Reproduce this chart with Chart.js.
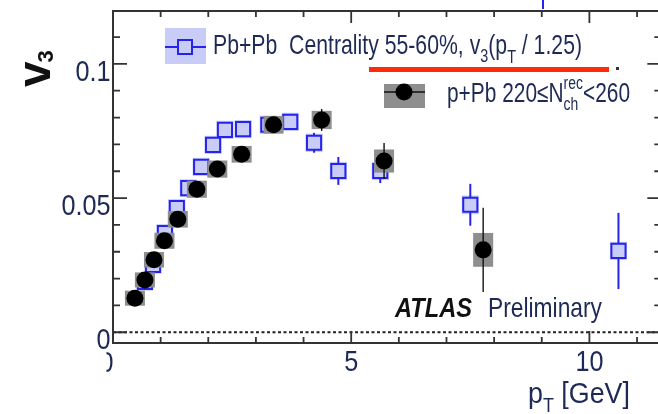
<!DOCTYPE html>
<html>
<head>
<meta charset="utf-8">
<script src="https://cdn.jsdelivr.net/npm/chart.js@4.4.1/dist/chart.umd.min.js"></script>
<style>
  html, body { margin: 0; padding: 0; background: #fff; overflow: hidden; }
  canvas { display: block; }
</style>
</head>
<body>
<canvas id="myChart" width="658" height="414"></canvas>
<script>
// p+Pb 220 <= N_ch^rec < 260 (black circles)
const pPbX    = [0.46, 0.67, 0.86, 1.08, 1.36, 1.76, 2.19, 2.70, 3.37, 4.38, 5.69, 7.77];
const pPbY    = [0.0127, 0.0195, 0.0270, 0.0341, 0.0421, 0.0533, 0.0608, 0.0663, 0.0773, 0.0791, 0.0638, 0.0307];
const pPbStat = [0.0006, 0.0007, 0.0008, 0.0009, 0.0010, 0.0012, 0.0015, 0.0018, 0.0024, 0.0041, 0.0067, 0.0157];
const pPbSys  = [0.0028, 0.0028, 0.0029, 0.0030, 0.0031, 0.0032, 0.0032, 0.0031, 0.0033, 0.0034, 0.0043, 0.0063];

// Pb+Pb centrality 55-60%, v3(pT/1.25) (blue open squares)
const pbpbX    = [0.67, 0.84, 1.09, 1.34, 1.58, 1.85, 2.10, 2.35, 2.73, 3.26, 3.72, 4.22, 4.73, 5.61, 7.50, 10.61];
const pbpbY    = [0.0188, 0.0251, 0.0370, 0.0463, 0.0537, 0.0616, 0.0698, 0.0754, 0.0757, 0.0773, 0.0784, 0.0706, 0.0601, 0.0601, 0.0475, 0.0303];
const pbpbStat = [0.0005, 0.0005, 0.0006, 0.0007, 0.0008, 0.0009, 0.0010, 0.0011, 0.0012, 0.0014, 0.0018, 0.0037, 0.0052, 0.0045, 0.0078, 0.0142];
const pbpbSys  = [0.0033, 0.0033, 0.0033, 0.0033, 0.0033, 0.0034, 0.0034, 0.0034, 0.0034, 0.0034, 0.0034, 0.0034, 0.0034, 0.0034, 0.0035, 0.0034];

const xTicks = [0, 5, 10];
const xTickLabels = ['', '5', '10'];
const yTicks = [0, 0.05, 0.1];
const yTickLabels = ['0', '0.05', '0.1'];

const X_FRAME_MAX = 11.51;   // right edge of the frame, just outside the picture

const FAM = '"Liberation Sans", Arial, sans-serif';
const TXT = '#1e2a55';
const BLUE = '#2424ee';
const BLUEBOX = '#c9ccf7';
const GRAY = '#8e8e8e';
const SQUEEZE = 0.84;   // the picture uses a narrow font

function pts(xs, ys) {
    return xs.map((x, i) => ({ x: x, y: ys[i] }));
}

// draw a row of text pieces, squeezed to a target width
function richText(ctx, segs, x, y, targetW, color) {
    let w = 0;
    segs.forEach(s => {
        ctx.font = s.font;
        s.w = ctx.measureText(s.t).width;
        if (s.sub) {
            ctx.font = s.subFont;
            s.w = Math.max(s.w, ctx.measureText(s.sub).width);
        }
        w += s.w;
    });
    const sx = targetW ? targetW / w : 1;
    ctx.save();
    ctx.translate(x, y);
    ctx.scale(sx, 1);
    ctx.fillStyle = color;
    ctx.textBaseline = 'alphabetic';
    ctx.textAlign = 'left';
    let cx = 0;
    segs.forEach(s => {
        ctx.font = s.font;
        ctx.fillText(s.t, cx, s.dy || 0);
        if (s.sub) {
            ctx.font = s.subFont;
            ctx.fillText(s.sub, cx, s.subDy);
        }
        cx += s.w;
    });
    ctx.restore();
}

function squeezedLabel(ctx, text, x, y, align) {
    ctx.save();
    ctx.translate(x, y);
    ctx.scale(SQUEEZE, 1);
    ctx.textAlign = align;
    ctx.textBaseline = 'alphabetic';
    ctx.fillText(text, 0, 0);
    ctx.restore();
}

function errorBars(chart, xs, ys, stat, sys, halfW, boxColor, lineColor, lineW) {
    const ctx = chart.ctx;
    const sx = chart.scales.x, sy = chart.scales.y;
    ctx.save();
    ctx.beginPath();
    ctx.rect(chart.chartArea.left, chart.chartArea.top, chart.chartArea.right - chart.chartArea.left, chart.chartArea.bottom - chart.chartArea.top);
    ctx.clip();
    xs.forEach((x, i) => {
        const x0 = sx.getPixelForValue(x - halfW), x1 = sx.getPixelForValue(x + halfW);
        const y0 = sy.getPixelForValue(ys[i] + sys[i]), y1 = sy.getPixelForValue(ys[i] - sys[i]);
        ctx.fillStyle = boxColor;
        ctx.fillRect(x0, y0, x1 - x0, y1 - y0);
    });
    ctx.strokeStyle = lineColor;
    ctx.lineWidth = lineW;
    xs.forEach((x, i) => {
        const px = sx.getPixelForValue(x);
        ctx.beginPath();
        ctx.moveTo(px, sy.getPixelForValue(ys[i] + stat[i]));
        ctx.lineTo(px, sy.getPixelForValue(ys[i] - stat[i]));
        ctx.stroke();
    });
    ctx.restore();
}

const framePlugin = {
    id: 'frame',
    beforeDatasetsDraw(chart) {
        const ctx = chart.ctx;
        const a = chart.chartArea;
        const sx = chart.scales.x, sy = chart.scales.y;
        const right = sx.getPixelForValue(X_FRAME_MAX);
        ctx.save();
        // zero line
        ctx.strokeStyle = '#222';
        ctx.lineWidth = 2;
        ctx.setLineDash([3, 2.5]);
        const y0 = sy.getPixelForValue(0);
        ctx.beginPath();
        ctx.moveTo(a.left, y0);
        ctx.lineTo(right, y0);
        ctx.stroke();
        ctx.setLineDash([]);
        // ticks (inward)
        ctx.strokeStyle = '#333';
        ctx.lineWidth = 1.8;
        for (let v = 0; v <= 11; v++) {
            const p = sx.getPixelForValue(v);
            const len = (v % 5 === 0) ? 12 : 6;
            ctx.beginPath();
            ctx.moveTo(p, a.bottom); ctx.lineTo(p, a.bottom - len);
            ctx.moveTo(p, a.top); ctx.lineTo(p, a.top + len);
            ctx.stroke();
        }
        for (let k = 0; k <= 11; k++) {
            const p = sy.getPixelForValue(k / 100);
            const len = (k % 5 === 0) ? 14 : 7;
            ctx.beginPath();
            ctx.moveTo(a.left, p); ctx.lineTo(a.left + len, p);
            ctx.moveTo(right, p); ctx.lineTo(right - len, p);
            ctx.stroke();
        }
        // frame
        ctx.lineWidth = 2;
        ctx.strokeRect(a.left, a.top, right - a.left, a.bottom - a.top);
        ctx.restore();
    },
    beforeDatasetDraw(chart, args) {
        if (args.index === 1) {
            errorBars(chart, pbpbX, pbpbY, pbpbStat, pbpbSys, 0.18, BLUEBOX, BLUE, 2);
        } else {
            errorBars(chart, pPbX, pPbY, pPbStat, pPbSys, 0.21, GRAY, '#111', 1.4);
        }
    },
    afterDraw(chart) {
        const ctx = chart.ctx;
        const a = chart.chartArea;
        const sx = chart.scales.x, sy = chart.scales.y;
        ctx.save();

        // tick labels
        ctx.fillStyle = TXT;
        ctx.font = '30px ' + FAM;
        yTicks.forEach((v, i) => squeezedLabel(ctx, yTickLabels[i], a.left - 2.5, sy.getPixelForValue(v) + 17, 'right'));
        xTicks.forEach((v, i) => squeezedLabel(ctx, xTickLabels[i], sx.getPixelForValue(v), a.bottom + 28, 'center'));

        // clipped 0 under the x axis
        ctx.save();
        ctx.beginPath();
        ctx.rect(106.5, 345, 8, 50);
        ctx.clip();
        squeezedLabel(ctx, '0', 106.5, a.bottom + 29, 'center');
        ctx.restore();

        // legend: Pb+Pb
        ctx.fillStyle = BLUEBOX;
        ctx.fillRect(165, 28, 41, 36);
        ctx.strokeStyle = BLUE;
        ctx.lineWidth = 2;
        ctx.beginPath(); ctx.moveTo(165, 47); ctx.lineTo(206, 47); ctx.stroke();
        ctx.fillRect(178, 40, 14, 14);
        ctx.strokeRect(178, 40, 14, 14);
        richText(ctx, [
            { t: 'Pb+Pb  Centrality 55-60%, v', font: '28px ' + FAM },
            { t: '3', font: '19px ' + FAM, dy: 8 },
            { t: '(p', font: '28px ' + FAM },
            { t: 'T', font: '19px ' + FAM, dy: 9 },
            { t: ' / 1.25)', font: '28px ' + FAM }
        ], 213, 54, 369, TXT);

        // red underline
        ctx.fillStyle = '#ff2a0a';
        ctx.fillRect(369, 67, 240, 5);
        ctx.fillStyle = '#333';
        ctx.fillRect(616, 67, 3, 3);

        // legend: p+Pb
        ctx.fillStyle = GRAY;
        ctx.fillRect(384, 84, 41, 24);
        ctx.strokeStyle = '#111';
        ctx.lineWidth = 1.5;
        ctx.beginPath(); ctx.moveTo(384, 92); ctx.lineTo(425, 92); ctx.stroke();
        ctx.fillStyle = '#000';
        ctx.beginPath(); ctx.arc(404, 92, 8.5, 0, Math.PI * 2); ctx.fill();
        richText(ctx, [
            { t: 'p+Pb 220\u2264N', font: '27px ' + FAM },
            { t: 'rec', font: '18px ' + FAM, dy: -13, sub: 'ch', subFont: '18px ' + FAM, subDy: 8 },
            { t: '<260', font: '27px ' + FAM }
        ], 447, 102, 183, TXT);

        // ATLAS Preliminary
        richText(ctx, [{ t: 'ATLAS', font: 'italic bold 28px ' + FAM }], 395, 317, 77, '#111');
        richText(ctx, [{ t: 'Preliminary', font: '28px ' + FAM }], 488, 317, 114, TXT);

        // x title
        richText(ctx, [
            { t: 'p', font: '30px ' + FAM },
            { t: 'T', font: '20px ' + FAM, dy: 9 },
            { t: ' [GeV]', font: '30px ' + FAM }
        ], 528, 403, 102, TXT);

        // y title (rotated)
        ctx.save();
        ctx.translate(50, 87);
        ctx.rotate(-Math.PI / 2);
        ctx.fillStyle = '#111';
        ctx.font = 'bold 46px ' + FAM;
        ctx.textBaseline = 'alphabetic';
        ctx.fillText('v', 0, 0);
        const vw = ctx.measureText('v').width;
        ctx.font = 'bold 22px ' + FAM;
        ctx.fillText('3', vw - 1, 3);
        ctx.restore();

        // stray blue mark at the top
        ctx.strokeStyle = BLUE;
        ctx.lineWidth = 2;
        ctx.beginPath(); ctx.moveTo(543, 0); ctx.lineTo(543, 9); ctx.stroke();

        ctx.restore();
    }
};

const config = {
    type: 'scatter',
    data: {
        datasets: [
            {
                label: 'p+Pb',
                data: pts(pPbX, pPbY),
                pointStyle: 'circle',
                pointRadius: 8.5,
                backgroundColor: '#000',
                borderColor: '#000',
                borderWidth: 0
            },
            {
                label: 'Pb+Pb',
                data: pts(pbpbX, pbpbY),
                pointStyle: 'rect',
                pointRadius: 10,
                backgroundColor: BLUEBOX,
                borderColor: BLUE,
                borderWidth: 2
            }
        ]
    },
    options: {
        responsive: false,
        animation: false,
        events: [],
        layout: { autoPadding: false, padding: { top: 11, right: 0, left: 0, bottom: 0 } },
        plugins: {
            legend: { display: false },
            tooltip: { enabled: false }
        },
        scales: {
            x: {
                type: 'linear',
                min: 0,
                max: 11.44,
                grid: { display: false, drawTicks: false },
                border: { display: false },
                ticks: { display: false },
                afterFit: (scale) => {
                    scale.height = 71;
                    scale.paddingLeft = 0; scale.paddingRight = 0;
                    scale.paddingTop = 0; scale.paddingBottom = 0;
                }
            },
            y: {
                type: 'linear',
                min: -0.0040,
                max: 0.1197,
                grid: { display: false, drawTicks: false },
                border: { display: false },
                ticks: { display: false },
                afterFit: (scale) => {
                    scale.width = 113;
                    scale.paddingLeft = 0; scale.paddingRight = 0;
                    scale.paddingTop = 0; scale.paddingBottom = 0;
                }
            }
        }
    },
    plugins: [framePlugin]
};

new Chart(document.querySelector('#myChart').getContext('2d'), config);
</script>
</body>
</html>
